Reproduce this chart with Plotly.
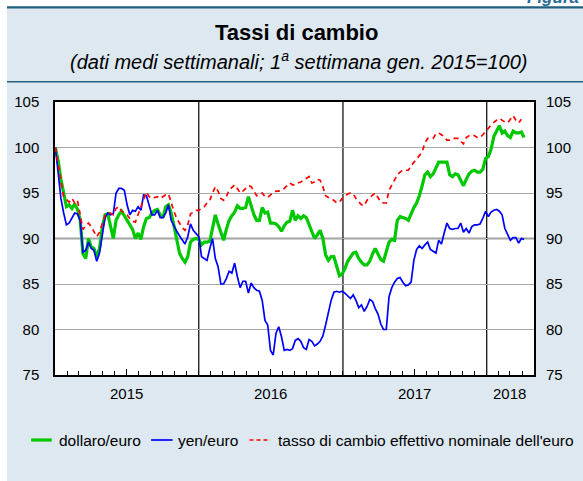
"""Tassi di cambio - dollaro/euro, yen/euro, cambio effettivo nominale (dati settimanali)."""

import pandas as pd
import plotly.graph_objects as go

# weekly averages, 1st week of January 2015 = 100
START = "2015-01-02"

dollaro = [
    100.0, 98.5, 96.5, 95.0, 93.5, 93.7, 93.3, 93.8, 93.2, 92.0,
    88.3, 87.8, 90.0, 89.1, 88.9, 88.0, 88.9, 91.2, 92.6, 92.7,
    91.5, 90.0, 92.0, 92.6, 93.0, 92.5, 92.0, 91.5, 91.0, 90.0,
    90.6, 89.9, 91.3, 92.2, 92.3, 92.8, 93.1, 93.2, 92.6, 92.3,
    93.5, 93.7, 92.8, 91.4, 89.8, 88.4, 87.8, 87.4, 88.0, 89.6,
    89.9, 90.0, 89.9, 89.3, 89.6, 89.6, 89.7, 91.0, 92.6, 91.6,
    90.6, 89.8, 91.0, 92.0, 92.5, 92.9, 93.6, 93.3, 93.3, 93.4,
    94.6, 93.5, 92.6, 92.0, 92.0, 93.4, 92.8, 92.9, 91.7, 91.7,
    91.6, 91.3, 90.8, 91.4, 91.8, 91.9, 93.1, 92.0, 92.5, 92.2,
    92.5, 92.3, 91.6, 90.8, 90.0, 90.4, 90.9, 90.0, 88.2, 87.6,
    88.0, 88.0, 86.8, 85.9, 86.1, 86.7, 87.5, 88.0, 88.4, 88.5,
    87.8, 87.4, 87.1, 87.1, 87.5, 88.3, 88.9, 88.3, 87.7, 87.5,
    88.5, 89.6, 89.9, 89.8, 92.0, 92.4, 92.3, 92.2, 92.0, 92.8,
    93.4, 93.9, 94.7, 95.8, 97.0, 97.3, 96.8, 97.1, 97.8, 98.4,
    98.4, 98.4, 98.4, 97.0, 96.8, 97.1, 97.0, 96.4, 95.8, 96.5,
    97.1, 97.4, 97.5, 97.3, 97.3, 97.6, 98.8, 99.0, 99.8, 101.2,
    101.9, 102.4, 101.6, 101.8, 101.3, 101.1, 101.8, 101.6, 101.6, 101.7,
    101.1,
]

yen = [
    100.0, 97.2, 94.4, 92.8, 91.5, 91.7, 92.3, 92.8, 92.7, 92.0,
    88.5, 88.7, 89.6, 88.9, 88.7, 87.5, 88.4, 90.5, 92.3, 92.8,
    92.6, 92.7, 95.0, 95.5, 95.5, 95.3, 93.7, 92.6, 93.1, 93.0,
    93.5, 93.1, 94.8, 94.7, 93.6, 92.6, 92.6, 93.1, 92.3, 92.3,
    92.8, 93.7, 92.0, 91.3, 90.8, 90.3, 89.9, 89.4, 90.2, 91.6,
    90.9, 90.6, 90.2, 88.0, 87.8, 87.6, 88.9, 90.0, 87.8, 86.9,
    85.0, 85.0, 85.6, 86.4, 86.2, 87.3, 85.8, 84.6, 85.3, 85.3,
    84.0, 85.1, 84.6, 84.3, 84.2, 83.2, 81.0, 80.5, 77.7, 77.2,
    79.6, 80.3, 79.2, 77.7, 77.8, 77.7, 77.9, 78.8, 79.0, 78.7,
    78.0, 77.8, 78.9, 78.7, 78.2, 78.4, 78.7, 79.3, 80.5, 81.8,
    83.2, 84.1, 84.2, 84.1, 84.2, 84.0, 83.7, 83.4, 83.8, 83.2,
    82.4, 82.7, 82.0, 82.5, 83.3, 83.1, 82.3, 81.7, 80.6, 80.0,
    80.0, 83.6, 84.6, 85.2, 85.6, 85.7, 85.2, 84.8, 84.9, 85.2,
    87.6, 88.8, 89.2, 88.9, 89.3, 89.6, 88.8, 88.6, 88.4, 89.8,
    89.4, 90.6, 91.7, 91.1, 91.0, 91.1, 91.1, 91.7, 90.7, 91.1,
    90.6, 91.3, 91.5, 91.5, 91.6, 92.2, 93.0, 92.4, 92.9, 93.1,
    93.2, 93.0, 92.6, 91.1, 90.4, 89.8, 90.1, 90.1, 89.5, 90.0,
    89.9,
]

neer = [
    100.0, 98.3, 96.6, 94.6, 94.3, 94.0, 94.4, 93.9, 94.2, 92.6,
    91.0, 91.4, 91.7, 91.3, 90.8, 90.2, 90.7, 91.5, 92.5, 92.8,
    92.8, 92.6, 93.3, 93.5, 93.0, 92.8, 92.6, 92.2, 91.9, 91.8,
    92.6, 93.5, 94.2, 95.1, 94.6, 94.4, 94.5, 94.6, 94.4, 94.6,
    94.8, 94.9, 93.9, 93.0, 92.2, 91.7, 91.2, 90.9, 91.5, 92.7,
    92.9, 93.1, 93.1, 93.3, 93.5, 93.9, 94.2, 95.0, 95.7, 95.2,
    94.4, 94.2, 94.6, 95.3, 95.6, 95.9, 95.5, 95.0, 95.2, 95.5,
    95.8, 95.7, 95.2, 94.7, 94.8, 95.0, 94.6, 94.5, 94.8, 95.0,
    95.2, 95.2, 95.3, 95.5, 95.8, 96.1, 95.9, 95.9, 96.1, 96.2,
    96.4, 96.6, 96.8, 96.1, 96.2, 96.5, 96.4, 95.7, 94.7, 94.5,
    94.3, 94.2, 93.9, 94.0, 94.4, 94.6, 94.9, 95.0, 94.9, 94.4,
    94.0, 93.7, 93.6, 94.2, 94.5, 94.8, 95.0, 94.5, 94.0, 93.9,
    93.9, 95.3, 95.9, 96.4, 97.0, 97.3, 97.5, 97.5, 97.5, 98.0,
    98.4, 98.8, 99.2, 99.5, 100.5, 101.0, 101.0, 101.0, 101.5, 101.6,
    101.4, 101.2, 100.8, 100.8, 101.0, 101.0, 101.0, 100.7, 100.4, 101.1,
    101.3, 101.4, 101.3, 101.1, 101.1, 101.4, 101.7, 102.1, 102.5, 102.8,
    103.0, 103.2, 103.0, 102.8, 102.7, 103.1, 103.5, 103.0, 102.7, 103.1,
]

series_names = ["dollaro/euro", "yen/euro",
                "tasso di cambio effettivo nominale dell'euro"]
years = ["2015", "2016", "2017", "2018"]
year_label_at = ["2015-07-02", "2016-07-01", "2017-07-01", "2018-03-01"]
year_breaks = ["2016-01-01", "2017-01-01", "2018-01-01"]
y_ticks = [75, 80, 85, 90, 95, 100, 105]

_FONT = "Liberation Sans, Arial, Helvetica, sans-serif"
_PANEL = "#DDE8F1"
_RULE = "#22607F"
_GREEN = "#00C800"
_BLUE = "#0000FF"
_RED = "#FF0000"

W, H = 583, 481
L, R, T, B = 55, 46, 102, 106


def px(x):
    return (x - L) / (W - L - R)


def py(y):
    return (H - B - y) / (H - T - B)


def weeks(n):
    return pd.date_range(START, periods=n, freq="7D")


fig = go.Figure()
fig.add_trace(go.Scatter(x=weeks(len(dollaro)), y=dollaro, mode="lines",
                         name=series_names[0],
                         line=dict(color=_GREEN, width=3.2)))
fig.add_trace(go.Scatter(x=weeks(len(yen)), y=yen, mode="lines",
                         name=series_names[1],
                         line=dict(color=_BLUE, width=1.7)))
fig.add_trace(go.Scatter(x=weeks(len(neer)), y=neer, mode="lines",
                         name=series_names[2],
                         line=dict(color=_RED, width=1.7, dash="5px,4px")))
# empty trace so the right-hand axis gets drawn
fig.add_trace(go.Scatter(x=[START], y=[None], yaxis="y2", showlegend=False,
                         hoverinfo="skip"))

# white margins round the light-blue panel
fig.add_shape(type="rect", xref="paper", yref="paper", x0=px(-5), x1=px(6.7),
              y0=py(H + 5), y1=py(-5), fillcolor="white", line_width=0)
fig.add_shape(type="rect", xref="paper", yref="paper", x0=px(-5), x1=px(W + 5),
              y0=py(6.5), y1=py(-5), fillcolor="white", line_width=0)
fig.add_shape(type="line", xref="paper", yref="paper", x0=px(6.7), x1=px(W + 5),
              y0=py(7.3), y1=py(7.3), line=dict(color=_RULE, width=2.2))
fig.add_shape(type="line", xref="paper", yref="paper", x0=px(6.7), x1=px(W + 5),
              y0=py(81.7), y1=py(81.7), line=dict(color=_RULE, width=1.6))

# thicker light rule on 90 and black year separators
fig.add_shape(type="line", xref="paper", yref="y", x0=0, x1=1, y0=90, y1=90,
              line=dict(color="#CDCDCD", width=3), layer="below")
for d in year_breaks:
    fig.add_shape(type="line", xref="x", yref="paper", x0=d, x1=d, y0=0, y1=1,
                  line=dict(color="black", width=1.2), layer="below")

annotations = [
    dict(text="<b>Tassi di cambio</b>", x=px(298.5), y=py(32.5),
         font=dict(size=22, color="black")),
    dict(text="<i>(dati medi settimanali; 1<sup>a</sup> settimana gen. 2015=100)</i>",
         x=px(301), y=py(60), font=dict(size=20, color="black")),
    dict(text="<b><i>Figura 1</i></b>", x=px(528), y=py(-3), xanchor="left",
         font=dict(size=17, color="#2A6C9A")),
]
for a in annotations:
    a.update(xref="paper", yref="paper", showarrow=False,
             yanchor="middle", xanchor=a.get("xanchor", "center"))
for lab, d in zip(years, year_label_at):
    annotations.append(dict(text=lab, x=d, xref="x", y=py(393), yref="paper",
                            showarrow=False, yanchor="middle",
                            font=dict(size=15, color="black")))

# legend drawn by hand to match the compact original
legend_items = [
    (series_names[0], _GREEN, 3.2, "solid", 31, 51.7, 56.7),
    (series_names[1], _BLUE, 1.7, "solid", 151.7, 173.3, 176.7),
    (series_names[2], _RED, 1.7, "4px,3px", 250.7, 272, 277),
]
for name, col, w, dash, x0, x1, xt in legend_items:
    fig.add_shape(type="line", xref="paper", yref="paper", x0=px(x0), x1=px(x1),
                  y0=py(440), y1=py(440), line=dict(color=col, width=w, dash=dash))
    annotations.append(dict(text=name, x=px(xt), y=py(440.5), xref="paper",
                            yref="paper", xanchor="left", yanchor="middle",
                            showarrow=False, font=dict(size=15.5, color="black")))

y_common = dict(range=[75, 105], tickmode="array", tickvals=y_ticks,
                ticks="", tickfont=dict(size=15, color="black"),
                ticklabelstandoff=11, zeroline=False, fixedrange=True)

fig.update_layout(
    width=W, height=H,
    margin=dict(l=L, r=R, t=T, b=B),
    paper_bgcolor=_PANEL, plot_bgcolor="white",
    font=dict(family=_FONT, color="black"),
    showlegend=False,
    annotations=annotations,
    xaxis=dict(type="date", range=["2015-01-01", "2018-05-01"],
               tickmode="array",
               tickvals=["2015-07-01", "2016-07-01", "2017-07-01"],
               showticklabels=False, ticks="inside", ticklen=6,
               tickcolor="black", tickwidth=1,
               minor=dict(ticks="inside", ticklen=4, tickcolor="black",
                          tickwidth=1, dtick="M1", tick0="2015-01-01",
                          showgrid=False),
               showgrid=False, showline=True, mirror=True,
               linecolor="black", linewidth=1.5, zeroline=False),
    yaxis=dict(**y_common, showgrid=True, gridcolor="#A8A8A8", gridwidth=1,
               showline=True, mirror=True, linecolor="black", linewidth=1.5),
    yaxis2=dict(**y_common, overlaying="y", side="right", showgrid=False,
                showline=False),
)

# the page body has a default 8px margin; drop it so the figure sits at 0,0
fig.write_html("out.html", config={"displayModeBar": False},
               post_script="document.body.style.margin='0';")
